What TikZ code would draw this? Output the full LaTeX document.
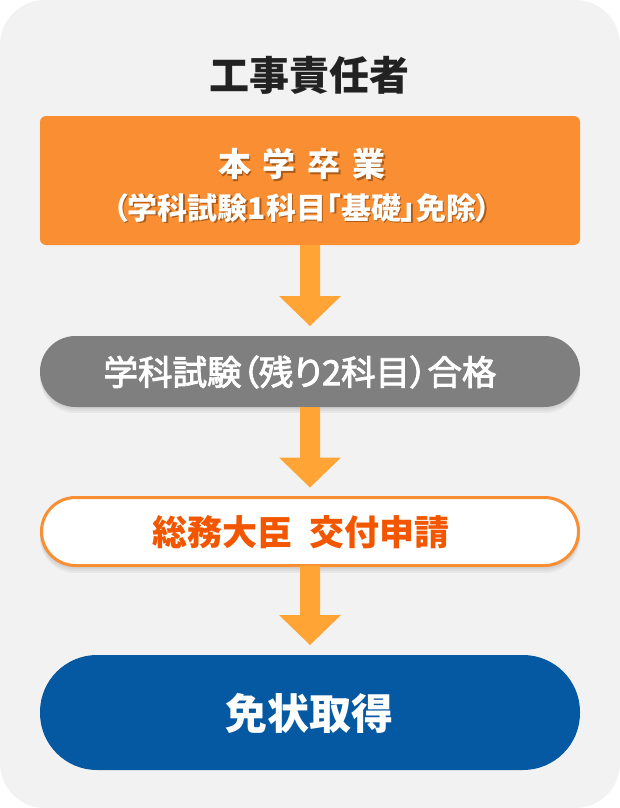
\documentclass[tikz,border=0pt]{standalone}
\usepackage{fontspec}
\setmainfont{Noto Sans CJK JP}[RawFeature=+palt]
\newfontfamily\jpmed{Noto Sans CJK JP}[RawFeature=+palt, FakeBold=2.5]
\usetikzlibrary{calc}
\definecolor{bgc}{HTML}{F2F2F2}
\definecolor{orbox}{HTML}{F98E33}
\definecolor{arrowc}{HTML}{FFA435}
\definecolor{greyc}{HTML}{7F7F7F}
\definecolor{bluec}{HTML}{0558A2}
\definecolor{redtxt}{HTML}{F25700}
\definecolor{shadowtxt}{HTML}{9A4F12}
\tikzset{
  panel/.style={minimum width=540pt, inner sep=0pt, outer sep=0pt},
  pillshadow/.style={fill=black, fill opacity=0.045, draw=none},
  flowarrow/.style={fill=arrowc, draw=none},
  txt/.style={inner sep=0pt, outer sep=0pt},
}
\begin{document}
\begin{tikzpicture}[x=1pt,y=1pt]
\useasboundingbox (0,0) rectangle (620,-808);
\fill[white] (0,0) rectangle (620,-808);
\fill[bgc, rounded corners=45pt] (0,0) rectangle (620,-808);

% title
\node[txt] (title) at (309,-75) {\fontsize{40}{44}\selectfont\bfseries\color[HTML]{222222}工事責任者};

% orange box
\node[panel, fill=orbox, rounded corners=6pt, minimum height=129pt] (box1) at (310,-180.5) {};
\node[txt, text=shadowtxt, opacity=0.8] at (303.5,-165.5) {\fontsize{33}{36}\selectfont\bfseries 本\hspace{12pt}学\hspace{12pt}卒\hspace{12pt}業};
\node[txt, text=white] (t1a) at (302,-164) {\fontsize{33}{36}\selectfont\bfseries 本\hspace{12pt}学\hspace{12pt}卒\hspace{12pt}業};
\node[txt, text=shadowtxt, opacity=0.8] at (303.5,-209.5) {\fontsize{30}{34}\selectfont\bfseries （学科試験1科目「基礎」免除）};
\node[txt, text=white] (t1b) at (302,-208) {\fontsize{30}{34}\selectfont\bfseries （学科試験1科目「基礎」免除）};

% grey pill
\foreach \d in {2,4,6} {
  \fill[pillshadow, rounded corners=35.5pt] (40,-336-\d) rectangle (580,-407-\d);
}
\node[panel, fill=greyc, rounded corners=35.5pt, minimum height=71pt] (box2) at (310,-371.5) {};
\node[txt, text=white] (t2) at (300,-372) {\fontsize{34.5}{38}\selectfont\jpmed 学科試験（残り2科目）合格};

% white pill
\foreach \d in {2,4,6} {
  \fill[pillshadow, rounded corners=35.5pt] (40,-496-\d) rectangle (580,-567-\d);
}
\node[panel, fill=white, draw=orbox, line width=3pt, rounded corners=34pt, minimum width=537pt, minimum height=68pt] (box3) at (310,-531.5) {};
\node[txt, text=redtxt] (t3) at (301,-532) {\fontsize{35}{38}\selectfont\bfseries 総務大臣\hspace{18pt}交付申請};

% blue pill
\node[panel, fill=bluec, rounded corners=57pt, minimum height=115pt] (box4) at (310,-712.5) {};
\node[txt, text=white] (t4) at (309,-713) {\fontsize{42}{46}\selectfont\bfseries 免状取得};

% arrows
\foreach \a/\b in {box1/box2, box2/box3, box3/box4} {
  \coordinate (s) at (\a.south);
  \coordinate (e) at (\b.north);
  \fill[flowarrow] ($(s)+(-10,0)$) -- ($(s)+(10,0)$) -- ($(e)+(10,40)$) -- ($(e)+(31,40)$)
     -- ($(e)+(0,10)$) -- ($(e)+(-31,40)$) -- ($(e)+(-10,40)$) -- cycle;
}
\end{tikzpicture}
\end{document}
